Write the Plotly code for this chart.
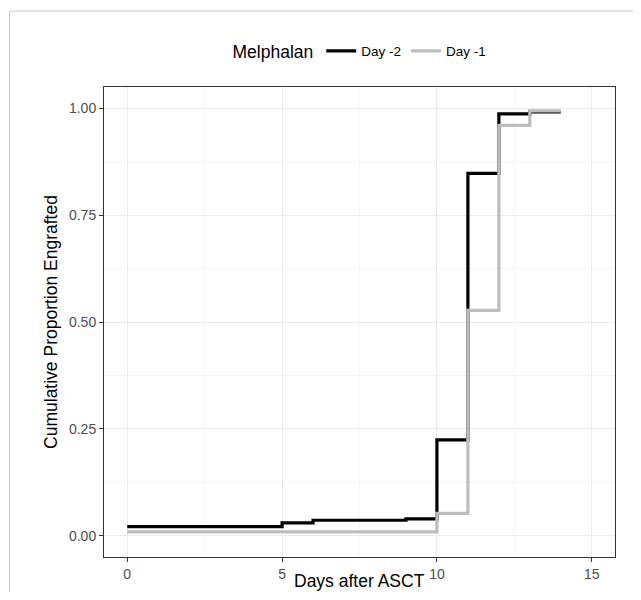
import plotly.graph_objects as go

# ---- data ----
days_day2 = [0, 5, 6, 9, 10, 11, 12, 13, 14]
prop_day2 = [0.021, 0.030, 0.036, 0.039, 0.224, 0.848, 0.987, 0.992, 0.992]

days_day1 = [0, 10, 11, 12, 13, 14]
prop_day1 = [0.009, 0.052, 0.527, 0.960, 0.994, 0.994]

series_names = ["Day -2", "Day -1"]
x_ticks = [0, 5, 10, 15]
y_ticks = [0.00, 0.25, 0.50, 0.75, 1.00]

# the page adds an 8px body margin, so the figure is laid out 8px up/left
OFF = 8
W, H = 641 - 2 * OFF, 600 - 2 * OFF
ML, MR, MT, MB = 96, 18, 79, 35
PW, PH = W - ML - MR, H - MT - MB

FONT = "Liberation Sans, Arial, Helvetica, sans-serif"

fig = go.Figure()
fig.add_trace(go.Scatter(x=days_day2, y=prop_day2, mode="lines", line_shape="hv",
                         line=dict(color="#000000", width=3.2), name=series_names[0]))
fig.add_trace(go.Scatter(x=days_day1, y=prop_day1, mode="lines", line_shape="hv",
                         line=dict(color="#BDBDBD", width=3.2), name=series_names[1]))


def px_x(px):
    """reference-image pixel x -> paper coordinate"""
    return (px - OFF - ML) / PW


def px_y(py):
    """reference-image pixel y -> paper coordinate"""
    return (H - MB - (py - OFF)) / PH


# outer frame lines (top and left) seen in the reference image
fig.add_shape(type="line", xref="paper", yref="paper", x0=px_x(9.5), x1=px_x(660),
              y0=px_y(11), y1=px_y(11), line=dict(color="#C8C8C8", width=1))
fig.add_shape(type="line", xref="paper", yref="paper", x0=px_x(9.5), x1=px_x(9.5),
              y0=px_y(11), y1=px_y(620), line=dict(color="#C8C8C8", width=1))

axis_common = dict(
    showline=True, mirror=True, linecolor="#333333", linewidth=1,
    ticks="outside", ticklen=4, tickwidth=1, tickcolor="#333333",
    showgrid=True, gridcolor="#EBEBEB", gridwidth=1,
    zeroline=False, automargin=False,
    tickfont=dict(family=FONT, size=14, color="#4D4D4D"),
)

fig.update_xaxes(
    **axis_common,
    range=[-0.75, 15.75], tickmode="array", tickvals=x_ticks,
    ticktext=[str(v) for v in x_ticks],
    minor=dict(tickmode="array", tickvals=[2.5, 7.5, 12.5], showgrid=True,
               gridcolor="#F4F4F4", gridwidth=0.6, ticks=""),
)
fig.update_yaxes(
    **axis_common,
    range=[-0.05, 1.05], tickmode="array", tickvals=y_ticks,
    ticktext=[f"{v:.2f}" for v in y_ticks],
    minor=dict(tickmode="array", tickvals=[0.125, 0.375, 0.625, 0.875], showgrid=True,
               gridcolor="#F4F4F4", gridwidth=0.6, ticks=""),
    title=dict(text="Cumulative Proportion Engrafted",
               font=dict(family=FONT, size=17.5, color="#000000"), standoff=6),
)

# x-axis title placed just under the tick labels, as in the reference
fig.add_annotation(text="Days after ASCT", xref="paper", yref="paper",
                   x=0.5, y=px_y(581), xanchor="center", yanchor="middle",
                   showarrow=False, font=dict(family=FONT, size=17.5, color="#000000"))

fig.update_layout(
    width=W, height=H,
    margin=dict(l=ML, r=MR, t=MT, b=MB, autoexpand=False),
    paper_bgcolor="#FFFFFF", plot_bgcolor="#FFFFFF",
    font=dict(family=FONT, color="#000000"),
    legend=dict(
        orientation="h", x=px_x(361), xanchor="center", y=px_y(52), yanchor="middle",
        title=dict(text="Melphalan", side="left", font=dict(family=FONT, size=17.5)),
        font=dict(family=FONT, size=13.5, color="#000000"),
        itemwidth=30, bgcolor="rgba(0,0,0,0)",
    ),
    showlegend=True,
)

fig.write_html("out.html")
